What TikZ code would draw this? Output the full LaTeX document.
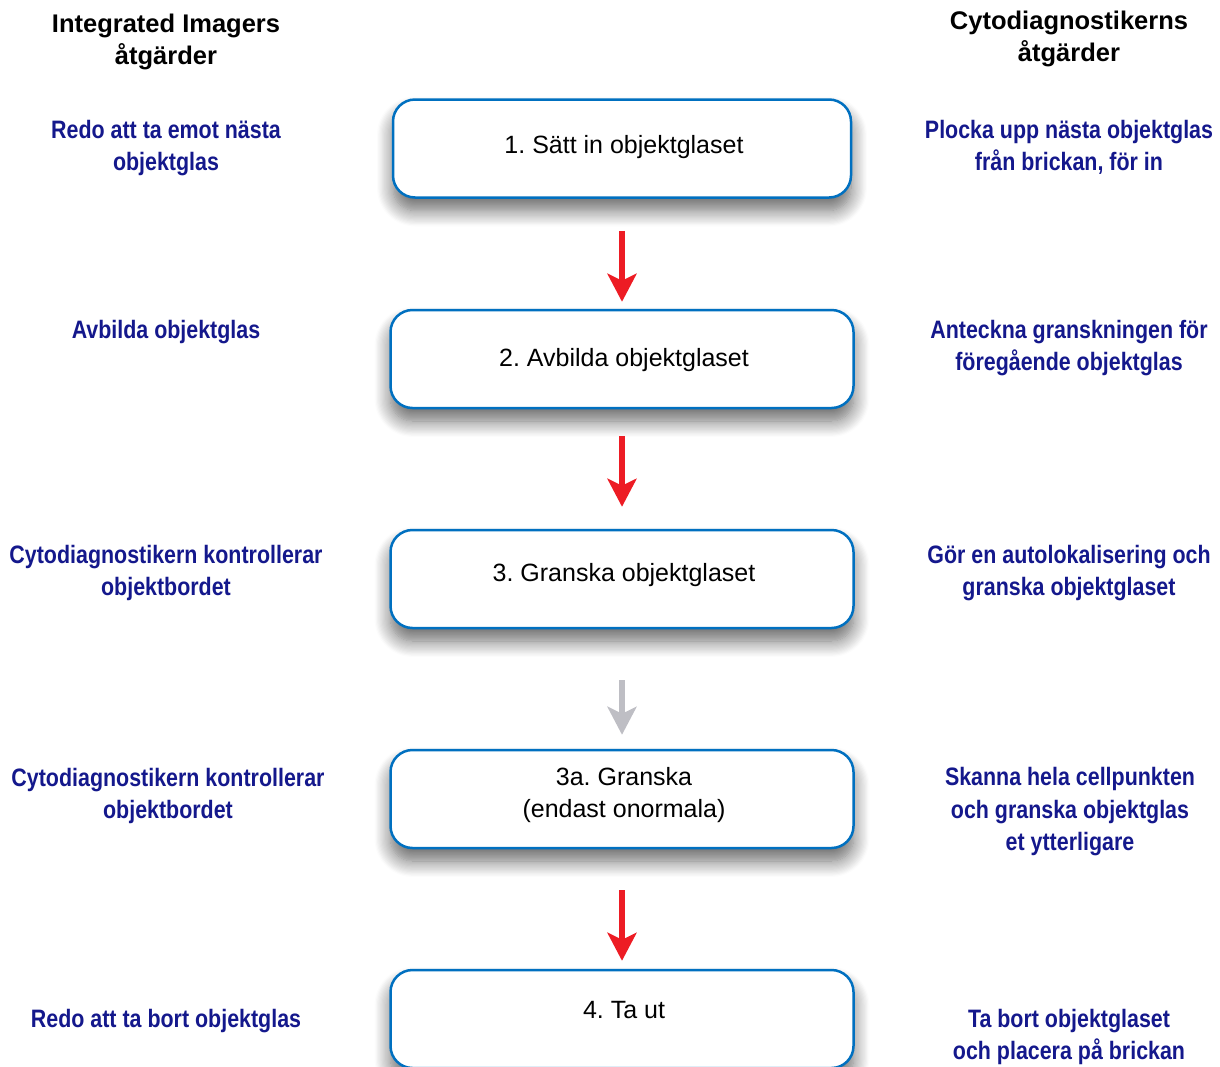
\documentclass[tikz,border=0pt]{standalone}
\usepackage{fontspec}
\setmainfont{Liberation Sans}
\newfontfamily\bluefont{Liberation Sans}[FakeStretch=0.85]
\usetikzlibrary{arrows.meta,shadows.blur}
\definecolor{navy}{RGB}{20,24,140}
\definecolor{boxblue}{RGB}{0,112,192}
\definecolor{arrred}{RGB}{237,28,36}
\definecolor{arrgray}{RGB}{190,190,196}
\frenchspacing
\begin{document}
\begin{tikzpicture}[x=1pt,y=-1pt,
  stepbox/.style={draw=boxblue, line width=2.5pt, rounded corners=22pt, fill=white,
    minimum height=98pt, inner sep=0pt,
    blur shadow={shadow xshift=0pt, shadow yshift=-13pt, shadow blur radius=16pt,
      shadow blur steps=14, shadow opacity=60}},
  boxtext/.style={anchor=base, align=center, font=\fontsize{25}{32}\selectfont},
  head/.style={anchor=base, align=center, font=\fontsize{25.5}{32}\selectfont\bfseries},
  note/.style={anchor=base, align=center, text=navy, font=\bluefont\bfseries\fontsize{25.2}{32.4}\selectfont},
  flow/.style={line width=6pt, -{Stealth[length=28pt,width=29pt,inset=7pt]}},
]
\useasboundingbox (0,0) rectangle (1220,1066);
\clip (0,0) rectangle (1220,1066);

% headers (anchor = baseline of last line)
\node[head] (hl) at (166,64) {Integrated Imagers\\åtgärder};
\node[head] (hr) at (1069,61) {Cytodiagnostikerns\\åtgärder};

% boxes
\node[stepbox, minimum width=458pt] (b1) at (622,148.5) {};
\node[stepbox, minimum width=463pt] (b2) at (622,359) {};
\node[stepbox, minimum width=463pt] (b3) at (622,579) {};
\node[stepbox, minimum width=463pt] (b4) at (622,799) {};
\node[stepbox, minimum width=463pt] (b5) at (622,1019) {};

\node[boxtext] (t1) at (624,153) {1. Sätt in objektglaset};
\node[boxtext] (t2) at (624,366) {2. Avbilda objektglaset};
\node[boxtext] (t3) at (624,581) {3. Granska objektglaset};
\node[boxtext] (t4) at (624,817) {3a. Granska\\(endast onormala)};
\node[boxtext] (t5) at (624,1018) {4. Ta ut};

% arrows
\draw[flow, arrred, shorten <=32pt, shorten >=7pt] (b1.south) -- (b2.north);
\draw[flow, arrred, shorten <=27pt, shorten >=22pt] (b2.south) -- (b3.north);
\draw[flow, arrgray, shorten <=51pt, shorten >=14pt] (b3.south) -- (b4.north);
\draw[flow, arrred, shorten <=41pt, shorten >=8pt] (b4.south) -- (b5.north);

% left notes
\node[note] (l1) at (166,170.5) {Redo att ta emot nästa\\objektglas};
\node[note] (l2) at (166,338.5) {Avbilda objektglas};
\node[note] (l3) at (166,595.5) {Cytodiagnostikern kontrollerar\\objektbordet};
\node[note] (l4) at (168,818.5) {Cytodiagnostikern kontrollerar\\objektbordet};
\node[note] (l5) at (166,1027.5) {Redo att ta bort objektglas};

% right notes
\node[note] (r1) at (1069,170.5) {Plocka upp nästa objektglas\\från brickan, för in};
\node[note] (r2) at (1069,370.5) {Anteckna granskningen för\\föregående objektglas};
\node[note] (r3) at (1069,595.5) {Gör en autolokalisering och\\granska objektglaset};
\node[note] (r4) at (1070,850.5) {Skanna hela cellpunkten\\och granska objektglas\\et ytterligare};
\node[note] (r5) at (1069,1059.5) {Ta bort objektglaset\\och placera på brickan};
\end{tikzpicture}
\end{document}
